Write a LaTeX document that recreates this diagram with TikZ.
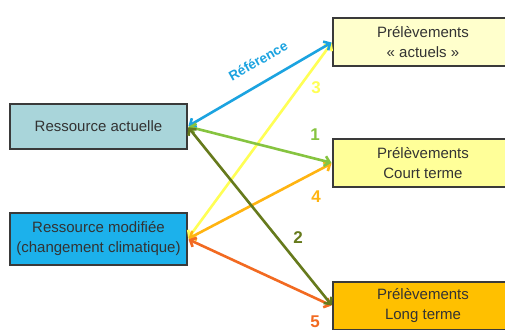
\documentclass[tikz,border=0pt]{standalone}
\usepackage{fontspec}
\setmainfont{Liberation Sans}
\usetikzlibrary{arrows.meta}
\definecolor{raFill}{HTML}{A9D5DA}
\definecolor{rmFill}{HTML}{1CB1EB}
\definecolor{paFill}{HTML}{FFFFCC}
\definecolor{pcFill}{HTML}{FFFF99}
\definecolor{plFill}{HTML}{FFC000}
\definecolor{boxLine}{HTML}{3A3A3A}
\definecolor{txt}{HTML}{333333}
\definecolor{cRef}{HTML}{1BA3E0}
\definecolor{cOne}{HTML}{86C440}
\definecolor{cTwo}{HTML}{667A1C}
\definecolor{cThree}{HTML}{FFFF55}
\definecolor{cFour}{HTML}{FFB411}
\definecolor{cFive}{HTML}{F26A21}
\tikzset{
  x=1pt, y=-1pt,
  box/.style={draw=boxLine, line width=1.2pt, text=txt, align=center,
    font=\fontsize{15}{20}\selectfont, inner sep=0pt},
  leftbox/.style={box, minimum width=177pt},
  rightbox/.style={box, minimum width=180pt, minimum height=48pt},
  link/.style={line width=2.6pt, {Straight Barb[length=5pt,width=10pt]}-{Straight Barb[length=5pt,width=10pt]}, shorten <=1pt, shorten >=1pt},
  num/.style={font=\fontsize{17}{17}\selectfont\bfseries}
}
\begin{document}
\begin{tikzpicture}
\useasboundingbox (0,0) rectangle (505,329);
\clip (0,0) rectangle (505,329);
\fill[white] (0,0) rectangle (505,329);
\node[leftbox, minimum height=45pt, fill=raFill] (ra) at (98.5,126.5) {Ressource actuelle};
\node[leftbox, minimum height=52pt, fill=rmFill] (rm) at (98.5,239) {Ressource modifiée\\(changement climatique)};
\node[rightbox, fill=paFill] (pa) at (423,42) {Prélèvements\\« actuels »};
\node[rightbox, fill=pcFill] (pc) at (423,163) {Prélèvements\\Court terme};
\node[rightbox, fill=plFill] (pl) at (423,306) {Prélèvements\\Long terme};
\draw[link, cThree] (rm.east) -- (pa.west);
\draw[link, cFour] (rm.east) -- (pc.west);
\draw[link, cFive] (rm.east) -- (pl.west);
\draw[link, cRef] (ra.east) -- (pa.west);
\draw[link, cOne] (ra.east) -- (pc.west);
\draw[link, cTwo] (ra.east) -- (pl.west);
\node[text=cRef, font=\fontsize{13.5}{13.5}\selectfont\bfseries, rotate=29.5] (lref) at (258,61) {Référence};
\node[num, text=cThree] (l3) at (316,88) {3};
\node[num, text=cOne] (l1) at (315,135) {1};
\node[num, text=cFour] (l4) at (316,197) {4};
\node[num, text=cTwo] (l2) at (298,238) {2};
\node[num, text=cFive] (l5) at (315,322) {5};
\end{tikzpicture}
\end{document}
